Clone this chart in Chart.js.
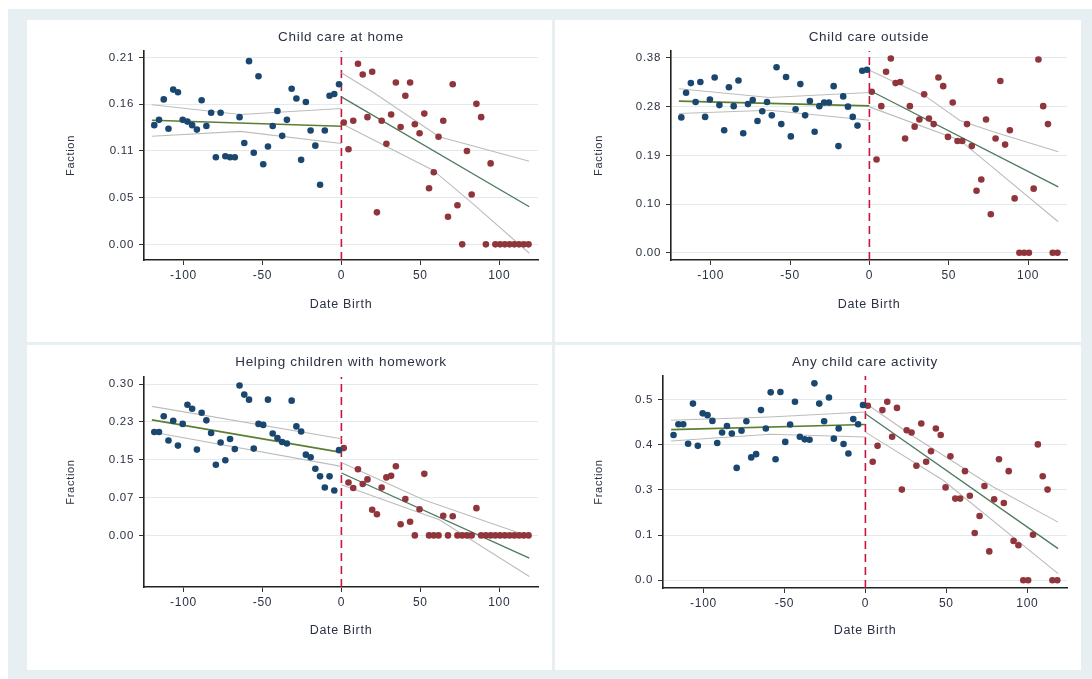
<!DOCTYPE html>
<html>
<head>
<meta charset="utf-8">
<script src="https://cdn.jsdelivr.net/npm/chart.js@4.4.0/dist/chart.umd.min.js"></script>
<style>
html, body { margin: 0; padding: 0; background: #fff; }
#frame { position: absolute; left: 8px; top: 9px; width: 1084px; height: 670px; background: #e8eff3; }
.panel { position: absolute; background: #fff; }
canvas { display: block; }
</style>
</head>
<body>
<div id="frame"></div>
<div class="panel" style="left:27px;top:20px;width:525px;height:322px"><canvas id="home" width="525" height="322"></canvas></div>
<div class="panel" style="left:555px;top:20px;width:526px;height:322px"><canvas id="outside" width="526" height="322"></canvas></div>
<div class="panel" style="left:27px;top:345px;width:525px;height:325px"><canvas id="homework" width="525" height="325"></canvas></div>
<div class="panel" style="left:555px;top:345px;width:526px;height:325px"><canvas id="any" width="526" height="325"></canvas></div>
<script>
// bins of the running variable (days around the cutoff)
const binsBefore = [-118.5, -115.5, -112.5, -109.5, -106.5, -103.5, -100.5, -97.5, -94.5, -91.5,
    -88.5, -85.5, -82.5, -79.5, -76.5, -73.5, -70.5, -67.5, -64.5, -61.5,
    -58.5, -55.5, -52.5, -49.5, -46.5, -43.5, -40.5, -37.5, -34.5, -31.5,
    -28.5, -25.5, -22.5, -19.5, -16.5, -13.5, -10.5, -7.5, -4.5, -1.5];
const binsAfter = [1.5, 4.5, 7.5, 10.5, 13.5, 16.5, 19.5, 22.5, 25.5, 28.5,
    31.5, 34.5, 37.5, 40.5, 43.5, 46.5, 49.5, 52.5, 55.5, 58.5,
    61.5, 64.5, 67.5, 70.5, 73.5, 76.5, 79.5, 82.5, 85.5, 88.5,
    91.5, 94.5, 97.5, 100.5, 103.5, 106.5, 109.5, 112.5, 115.5, 118.5];
const xTicks = [-100, -50, 0, 50, 100];

// Child care at home
const homeBefore = [0.134, 0.140, 0.163, 0.130, 0.174, 0.171, 0.140, 0.138, 0.134, 0.129,
    0.162, 0.133, 0.148, 0.098, 0.148, 0.099, 0.098, 0.098, 0.143, 0.114,
    0.206, 0.103, 0.189, 0.090, 0.110, 0.133, 0.150, 0.122, 0.140, 0.175,
    0.164, 0.095, 0.160, 0.128, 0.111, 0.067, 0.128, 0.167, 0.169, 0.180];
const homeAfter = [0.137, 0.107, 0.139, 0.203, 0.191, 0.143, 0.194, 0.036, 0.139, 0.113,
    0.146, 0.182, 0.132, 0.167, 0.182, 0.135, 0.125, 0.147, 0.063, 0.081,
    0.121, 0.139, 0.031, 0.180, 0.044, 0, 0.105, 0.056, 0.158, 0.143,
    0, 0.091, 0, 0, 0, 0, 0, 0, 0, 0];
const homeTicks = [0, 0.0525, 0.105, 0.1575, 0.21];
const homeTickLabels = ['0.00', '0.05', '0.11', '0.16', '0.21'];
const homeFitBeforeX = [-120, 0], homeFitBeforeY = [0.1396, 0.1328];
const homeHiBeforeX = [-120, -64, 0], homeHiBeforeY = [0.157, 0.146, 0.1527];
const homeLoBeforeX = [-120, -64, 0], homeLoBeforeY = [0.1216, 0.127, 0.1134];
const homeFitAfterX = [0, 119], homeFitAfterY = [0.1658, 0.0423];
const homeHiAfterX = [0, 20, 62, 119], homeHiAfterY = [0.193, 0.171, 0.121, 0.0935];
const homeLoAfterX = [0, 58, 83, 119], homeLoAfterY = [0.136, 0.0834, 0.046, -0.010];

// Child care outside
const outBefore = [0.264, 0.312, 0.331, 0.294, 0.333, 0.265, 0.299, 0.342, 0.288, 0.239,
    0.323, 0.286, 0.336, 0.233, 0.290, 0.298, 0.257, 0.276, 0.294, 0.268,
    0.362, 0.251, 0.343, 0.227, 0.280, 0.329, 0.268, 0.296, 0.236, 0.286,
    0.293, 0.293, 0.325, 0.208, 0.305, 0.285, 0.265, 0.248, 0.355, 0.357];
const outAfter = [0.314, 0.182, 0.286, 0.353, 0.379, 0.331, 0.333, 0.223, 0.286, 0.246,
    0.260, 0.309, 0.262, 0.251, 0.342, 0.325, 0.226, 0.293, 0.218, 0.218,
    0.251, 0.208, 0.121, 0.143, 0.260, 0.075, 0.223, 0.335, 0.211, 0.239,
    0.106, 0, 0, 0, 0.125, 0.377, 0.286, 0.251, 0, 0];
const outTicks = [0, 0.095, 0.19, 0.285, 0.38];
const outTickLabels = ['0.00', '0.10', '0.19', '0.28', '0.38'];
const outFitBeforeX = [-120, 0], outFitBeforeY = [0.2957, 0.2865];
const outHiBeforeX = [-120, -63, 0], outHiBeforeY = [0.320, 0.303, 0.3126];
const outLoBeforeX = [-120, -63, 0], outLoBeforeY = [0.2716, 0.278, 0.2586];
const outFitAfterX = [0, 119], outFitAfterY = [0.317, 0.1286];
const outHiAfterX = [0, 36, 57, 78, 119], outHiAfterY = [0.356, 0.304, 0.258, 0.236, 0.197];
const outLoAfterX = [0, 57, 119], outLoAfterY = [0.2846, 0.2197, 0.0604];

// Helping children with homework
const hwBefore = [0.205, 0.205, 0.236, 0.188, 0.227, 0.178, 0.221, 0.259, 0.251, 0.170,
    0.243, 0.228, 0.203, 0.140, 0.184, 0.149, 0.191, 0.171, 0.297, 0.279,
    0.269, 0.172, 0.221, 0.219, 0.269, 0.202, 0.193, 0.185, 0.182, 0.267,
    0.216, 0.206, 0.160, 0.155, 0.132, 0.117, 0.095, 0.117, 0.089, 0.169];
const hwAfter = [0.173, 0.105, 0.094, 0.131, 0.102, 0.111, 0.051, 0.042, 0.095, 0.115,
    0.118, 0.137, 0.022, 0.072, 0.027, 0, 0.052, 0.122, 0, 0,
    0, 0.039, 0, 0.038, 0, 0, 0, 0, 0.054, 0,
    0, 0, 0, 0, 0, 0, 0, 0, 0, 0];
const hwTicks = [0, 0.075, 0.15, 0.225, 0.30];
const hwTickLabels = ['0.00', '0.07', '0.15', '0.23', '0.30'];
const hwFitBeforeX = [-120, 0], hwFitBeforeY = [0.229, 0.1645];
const hwHiBeforeX = [-120, 0], hwHiBeforeY = [0.2557, 0.1917];
const hwLoBeforeX = [-120, 0], hwLoBeforeY = [0.205, 0.1368];
const hwFitAfterX = [0, 119], hwFitAfterY = [0.1237, -0.0449];
const hwHiAfterX = [0, 52, 119], hwHiAfterY = [0.1447, 0.0708, -0.002];
const hwLoAfterX = [0, 62, 119], hwLoAfterY = [0.1005, 0.031, -0.0813];

// Any child care activity
const anyBefore = [0.402, 0.432, 0.432, 0.378, 0.489, 0.372, 0.462, 0.457, 0.441, 0.380,
    0.409, 0.427, 0.406, 0.311, 0.414, 0.440, 0.340, 0.349, 0.471, 0.420,
    0.520, 0.335, 0.521, 0.383, 0.431, 0.494, 0.397, 0.390, 0.389, 0.545,
    0.489, 0.440, 0.506, 0.392, 0.420, 0.377, 0.351, 0.446, 0.432, 0.485];
const anyAfter = [0.483, 0.328, 0.372, 0.471, 0.494, 0.397, 0.477, 0.251, 0.415, 0.409,
    0.317, 0.434, 0.328, 0.357, 0.420, 0.402, 0.257, 0.343, 0.226, 0.226,
    0.302, 0.234, 0.131, 0.178, 0.261, 0.080, 0.224, 0.335, 0.214, 0.302,
    0.109, 0.097, 0, 0, 0.126, 0.376, 0.288, 0.251, 0, 0];
const anyTicks = [0, 0.125, 0.25, 0.375, 0.5];
const anyTickLabels = ['0.0', '0.1', '0.3', '0.4', '0.5'];
const anyFitBeforeX = [-120, 0], anyFitBeforeY = [0.417, 0.431];
const anyHiBeforeX = [-120, -59, 0], anyHiBeforeY = [0.4427, 0.452, 0.4657];
const anyLoBeforeX = [-120, -59, 0], anyLoBeforeY = [0.3855, 0.404, 0.3965];
const anyFitAfterX = [0, 119], anyFitAfterY = [0.461, 0.0877];
const anyHiAfterX = [0, 30, 79, 119], anyHiAfterY = [0.49, 0.397, 0.258, 0.161];
const anyLoAfterX = [0, 48, 119], anyLoAfterY = [0.41, 0.2767, 0.0185];

const NAVY = '#1a476f';
const MAROON = '#90353b';
const TEXT = '#2a3142';

function pts(xs, ys) {
    return xs.map((x, i) => ({ x: x, y: ys[i] }));
}

function lineSet(data, color, width) {
    return { data: data, showLine: true, borderColor: color, borderWidth: width,
             pointRadius: 0, fill: false, tension: 0 };
}

// Stata-style text is a little wider than the browser's
const spacing = {
    id: 'spacing',
    beforeUpdate(chart) { chart.ctx.letterSpacing = '0.7px'; },
    beforeDraw(chart) { chart.ctx.letterSpacing = '0.7px'; }
};

function makePanel(id, p) {
    const canvas = document.getElementById(id);
    const W = canvas.width, H = canvas.height;
    const box = p.box;
    const datasets = [
        { data: pts(binsBefore, p.before), backgroundColor: NAVY, borderColor: NAVY, pointRadius: 3.3, pointBorderWidth: 0 },
        { data: pts(binsAfter, p.after), backgroundColor: MAROON, borderColor: MAROON, pointRadius: 3.3, pointBorderWidth: 0 },
        lineSet(p.fitBefore, '#5b7f32', 1.6),
        lineSet(p.hiBefore, '#bcbcbc', 1.1),
        lineSet(p.loBefore, '#bcbcbc', 1.1),
        lineSet(p.fitAfter, '#4d7a5e', 1.3),
        lineSet(p.hiAfter, '#bcbcbc', 1.1),
        lineSet(p.loAfter, '#bcbcbc', 1.1),
        Object.assign(lineSet([{ x: 0, y: p.yMin }, { x: 0, y: p.yMax }], '#c8143c', 1.6), { borderDash: [8, 5] })
    ];
    return new Chart(canvas, {
        type: 'scatter',
        data: { datasets: datasets },
        plugins: [spacing],
        options: {
            responsive: false,
            animation: false,
            devicePixelRatio: 1,
            layout: { padding: { left: 0, right: W - box.right, top: 0, bottom: 0 } },
            plugins: {
                legend: { display: false },
                tooltip: { enabled: false },
                title: {
                    display: true,
                    text: p.title,
                    fullSize: false,
                    color: TEXT,
                    font: { family: 'Liberation Sans', size: 13.5, weight: 'normal', lineHeight: 1.2 },
                    padding: { top: 9.5, bottom: box.top - 9.5 - 16.2 }
                }
            },
            scales: {
                x: {
                    type: 'linear',
                    min: -125,
                    max: 124.5,
                    afterBuildTicks: s => { s.ticks = xTicks.map(v => ({ value: v })); },
                    afterFit: s => { s.height = H - box.bottom; },
                    ticks: { color: TEXT, padding: 3, font: { family: 'Liberation Sans', size: 12 } },
                    grid: { drawOnChartArea: false, drawTicks: true, tickLength: 5, tickColor: '#333', tickWidth: 1 },
                    border: { display: true, color: '#222', width: 1.6 },
                    title: {
                        display: true, text: 'Date Birth', color: TEXT,
                        font: { family: 'Liberation Sans', size: 12.5 },
                        padding: { top: 0, bottom: H - p.xTitleY - 7.5 }
                    }
                },
                y: {
                    type: 'linear',
                    min: p.yMin,
                    max: p.yMax,
                    afterBuildTicks: s => { s.ticks = p.ticks.map(v => ({ value: v })); },
                    afterFit: s => { s.width = box.left; },
                    ticks: {
                        color: TEXT, padding: 5,
                        font: { family: 'Liberation Sans', size: 11.5 },
                        callback: (v, i) => p.tickLabels[i]
                    },
                    grid: { color: '#e2eaee', lineWidth: 1, drawTicks: true, tickLength: 5, tickColor: '#333', tickWidth: 1 },
                    border: { display: true, color: '#222', width: 1.6 },
                    title: {
                        display: true, text: p.yTitle, color: TEXT,
                        font: { family: 'Liberation Sans', size: 11 },
                        padding: { top: 44 - 6.6, bottom: 0 }
                    }
                }
            }
        }
    });
}

makePanel('home', {
    title: 'Child care at home', yTitle: 'Faction',
    before: homeBefore, after: homeAfter,
    ticks: homeTicks, tickLabels: homeTickLabels, yMin: -0.0176, yMax: 0.2174,
    fitBefore: pts(homeFitBeforeX, homeFitBeforeY),
    hiBefore: pts(homeHiBeforeX, homeHiBeforeY), loBefore: pts(homeLoBeforeX, homeLoBeforeY),
    fitAfter: pts(homeFitAfterX, homeFitAfterY),
    hiAfter: pts(homeHiAfterX, homeHiAfterY), loAfter: pts(homeLoAfterX, homeLoAfterY),
    box: { left: 117, right: 511, top: 31, bottom: 240 }, xTitleY: 285
});

makePanel('outside', {
    title: 'Child care outside', yTitle: 'Faction',
    before: outBefore, after: outAfter,
    ticks: outTicks, tickLabels: outTickLabels, yMin: -0.0142, yMax: 0.3936,
    fitBefore: pts(outFitBeforeX, outFitBeforeY),
    hiBefore: pts(outHiBeforeX, outHiBeforeY), loBefore: pts(outLoBeforeX, outLoBeforeY),
    fitAfter: pts(outFitAfterX, outFitAfterY),
    hiAfter: pts(outHiAfterX, outHiAfterY), loAfter: pts(outLoAfterX, outLoAfterY),
    box: { left: 116, right: 512, top: 31, bottom: 240 }, xTitleY: 285
});

makePanel('homework', {
    title: 'Helping children with homework', yTitle: 'Fraction',
    before: hwBefore, after: hwAfter,
    ticks: hwTicks, tickLabels: hwTickLabels, yMin: -0.1022, yMax: 0.3139,
    fitBefore: pts(hwFitBeforeX, hwFitBeforeY),
    hiBefore: pts(hwHiBeforeX, hwHiBeforeY), loBefore: pts(hwLoBeforeX, hwLoBeforeY),
    fitAfter: pts(hwFitAfterX, hwFitAfterY),
    hiAfter: pts(hwHiAfterX, hwHiAfterY), loAfter: pts(hwLoAfterX, hwLoAfterY),
    box: { left: 117, right: 511, top: 32, bottom: 242 }, xTitleY: 286
});

makePanel('any', {
    title: 'Any child care activity', yTitle: 'Fraction',
    before: anyBefore, after: anyAfter,
    ticks: anyTicks, tickLabels: anyTickLabels, yMin: -0.0213, yMax: 0.5653,
    fitBefore: pts(anyFitBeforeX, anyFitBeforeY),
    hiBefore: pts(anyHiBeforeX, anyHiBeforeY), loBefore: pts(anyLoBeforeX, anyLoBeforeY),
    fitAfter: pts(anyFitAfterX, anyFitAfterY),
    hiAfter: pts(anyHiAfterX, anyHiAfterY), loAfter: pts(anyLoAfterX, anyLoAfterY),
    box: { left: 108, right: 512, top: 31, bottom: 243 }, xTitleY: 286
});
</script>
</body>
</html>
